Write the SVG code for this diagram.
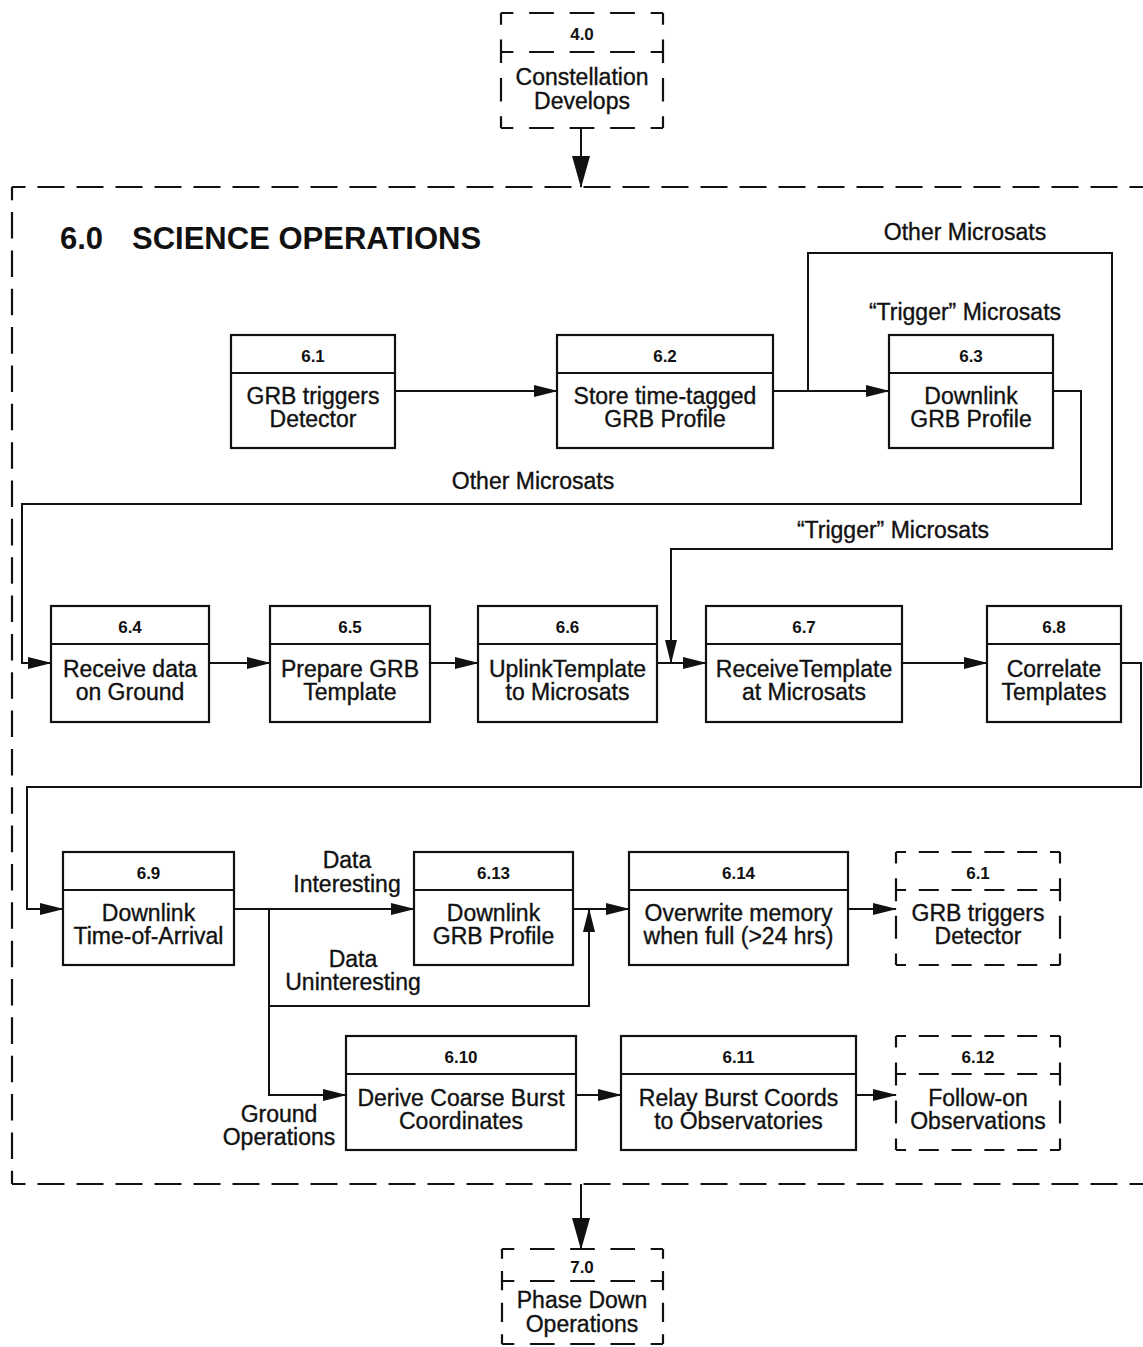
<svg xmlns="http://www.w3.org/2000/svg" width="1143" height="1347" viewBox="0 0 1143 1347">
  <style>
    .node rect { fill: #fff; stroke: #111; stroke-width: 2.2; }
    .node line.div { stroke: #111; stroke-width: 2.2; }
    .dashed line { stroke: #111; stroke-width: 2.2; stroke-dasharray: 22 14; stroke-dashoffset: 11; fill: none; }
    .frame line { stroke: #111; stroke-width: 2.2; stroke-dasharray: 27 12; stroke-dashoffset: 13.5; }
    text { font-family: "Liberation Sans", Arial, Helvetica, sans-serif; fill: #111; text-anchor: middle; }
    .num { font-size: 17px; font-weight: bold; }
    .lbl { font-size: 23px; stroke: #111; stroke-width: 0.35; }
    .title { font-size: 31px; font-weight: bold; text-anchor: start; }
    .conn path { fill: none; stroke: #111; stroke-width: 2; }
  </style>
  <defs>
    <marker id="ah" markerUnits="userSpaceOnUse" markerWidth="24" markerHeight="12" refX="23" refY="6" orient="auto">
      <path d="M0,0 L24,6 L0,12 z" fill="#111"/>
    </marker>
    <marker id="ahb" markerUnits="userSpaceOnUse" markerWidth="32" markerHeight="18" refX="31" refY="9" orient="auto">
      <path d="M0,0 L32,9 L0,18 z" fill="#111"/>
    </marker>
  </defs>

  <rect width="1143" height="1347" fill="#fff"/>

  <!-- 6.0 enclosing frame (right edge lies past the sheet) -->
  <g id="frame-6-0" class="frame">
    <line x1="12" y1="187" x2="1143" y2="187"/>
    <line x1="12" y1="187" x2="12" y2="1184" pathLength="1014"/>
    <line x1="12" y1="1184" x2="1143" y2="1184"/>
    <text class="title" x="60" y="249">6.0</text>
    <text class="title" x="132" y="249">SCIENCE OPERATIONS</text>
  </g>

  <!-- connectors -->
  <g id="connectors" class="conn">
    <path d="M581,128 V187" marker-end="url(#ahb)"/>
    <path d="M581,1184 V1249" marker-end="url(#ahb)"/>
    <path d="M395,391 H557" marker-end="url(#ah)"/>
    <path d="M773,391 H889" marker-end="url(#ah)"/>
    <path d="M808,391 V253 H1112 V549 H671 V663" marker-end="url(#ah)"/>
    <path d="M1053,391 H1081 V504 H22 V663 H51" marker-end="url(#ah)"/>
    <path d="M209,663 H270" marker-end="url(#ah)"/>
    <path d="M430,663 H478" marker-end="url(#ah)"/>
    <path d="M657,663 H706" marker-end="url(#ah)"/>
    <path d="M902,663 H987" marker-end="url(#ah)"/>
    <path d="M1121,663 H1141 V787 H27 V909 H63" marker-end="url(#ah)"/>
    <path d="M234,909 H414" marker-end="url(#ah)"/>
    <path d="M269,909 V1006 H589 V909" marker-end="url(#ah)"/>
    <path d="M573,909 H629" marker-end="url(#ah)"/>
    <path d="M269,1006 V1095 H346" marker-end="url(#ah)"/>
    <path d="M848,909 H896" marker-end="url(#ah)"/>
    <path d="M576,1095 H621" marker-end="url(#ah)"/>
    <path d="M856,1095 H896" marker-end="url(#ah)"/>
  </g>

  <!-- connector labels -->
  <g id="connector-labels">
    <text class="lbl" x="965" y="240">Other Microsats</text>
    <text class="lbl" x="965" y="320">“Trigger” Microsats</text>
    <text class="lbl" x="533" y="489">Other Microsats</text>
    <text class="lbl" x="893" y="538">“Trigger” Microsats</text>
    <text class="lbl" x="347" y="868">Data</text>
    <text class="lbl" x="347" y="892">Interesting</text>
    <text class="lbl" x="353" y="967">Data</text>
    <text class="lbl" x="353" y="990">Uninteresting</text>
    <text class="lbl" x="279" y="1122">Ground</text>
    <text class="lbl" x="279" y="1145">Operations</text>
  </g>

  <!-- 4.0 (outside step) -->
  <g id="n4-0" class="dashed">
    <rect x="501" y="13" width="162" height="115" fill="#fff"/>
    <line x1="501" y1="13" x2="663" y2="13" pathLength="144"/>
    <line x1="501" y1="128" x2="663" y2="128" pathLength="144"/>
    <line x1="501" y1="13" x2="501" y2="128" pathLength="108"/>
    <line x1="663" y1="13" x2="663" y2="128" pathLength="108"/>
    <line x1="501" y1="52" x2="663" y2="52" pathLength="144"/>
    <text class="num" x="582" y="40">4.0</text>
    <text class="lbl" x="582" y="85">Constellation</text>
    <text class="lbl" x="582" y="109">Develops</text>
  </g>

  <!-- row 1 -->
  <g id="n6-1" class="node">
    <rect x="231" y="335" width="164" height="113"/>
    <line class="div" x1="231" y1="373" x2="395" y2="373"/>
    <text class="num" x="313" y="362">6.1</text>
    <text class="lbl" x="313" y="404">GRB triggers</text>
    <text class="lbl" x="313" y="427">Detector</text>
  </g>
  <g id="n6-2" class="node">
    <rect x="557" y="335" width="216" height="113"/>
    <line class="div" x1="557" y1="373" x2="773" y2="373"/>
    <text class="num" x="665" y="362">6.2</text>
    <text class="lbl" x="665" y="404">Store time-tagged</text>
    <text class="lbl" x="665" y="427">GRB Profile</text>
  </g>
  <g id="n6-3" class="node">
    <rect x="889" y="335" width="164" height="113"/>
    <line class="div" x1="889" y1="373" x2="1053" y2="373"/>
    <text class="num" x="971" y="362">6.3</text>
    <text class="lbl" x="971" y="404">Downlink</text>
    <text class="lbl" x="971" y="427">GRB Profile</text>
  </g>

  <!-- row 2 -->
  <g id="n6-4" class="node">
    <rect x="51" y="606" width="158" height="116"/>
    <line class="div" x1="51" y1="644" x2="209" y2="644"/>
    <text class="num" x="130" y="633">6.4</text>
    <text class="lbl" x="130" y="677">Receive data</text>
    <text class="lbl" x="130" y="700">on Ground</text>
  </g>
  <g id="n6-5" class="node">
    <rect x="270" y="606" width="160" height="116"/>
    <line class="div" x1="270" y1="644" x2="430" y2="644"/>
    <text class="num" x="350" y="633">6.5</text>
    <text class="lbl" x="350" y="677">Prepare GRB</text>
    <text class="lbl" x="350" y="700">Template</text>
  </g>
  <g id="n6-6" class="node">
    <rect x="478" y="606" width="179" height="116"/>
    <line class="div" x1="478" y1="644" x2="657" y2="644"/>
    <text class="num" x="567.5" y="633">6.6</text>
    <text class="lbl" x="567.5" y="677">UplinkTemplate</text>
    <text class="lbl" x="567.5" y="700">to Microsats</text>
  </g>
  <g id="n6-7" class="node">
    <rect x="706" y="606" width="196" height="116"/>
    <line class="div" x1="706" y1="644" x2="902" y2="644"/>
    <text class="num" x="804" y="633">6.7</text>
    <text class="lbl" x="804" y="677">ReceiveTemplate</text>
    <text class="lbl" x="804" y="700">at Microsats</text>
  </g>
  <g id="n6-8" class="node">
    <rect x="987" y="606" width="134" height="116"/>
    <line class="div" x1="987" y1="644" x2="1121" y2="644"/>
    <text class="num" x="1054" y="633">6.8</text>
    <text class="lbl" x="1054" y="677">Correlate</text>
    <text class="lbl" x="1054" y="700">Templates</text>
  </g>

  <!-- row 3 -->
  <g id="n6-9" class="node">
    <rect x="63" y="852" width="171" height="113"/>
    <line class="div" x1="63" y1="890" x2="234" y2="890"/>
    <text class="num" x="148.5" y="879">6.9</text>
    <text class="lbl" x="148.5" y="921">Downlink</text>
    <text class="lbl" x="148.5" y="944">Time-of-Arrival</text>
  </g>
  <g id="n6-13" class="node">
    <rect x="414" y="852" width="159" height="113"/>
    <line class="div" x1="414" y1="890" x2="573" y2="890"/>
    <text class="num" x="493.5" y="879">6.13</text>
    <text class="lbl" x="493.5" y="921">Downlink</text>
    <text class="lbl" x="493.5" y="944">GRB Profile</text>
  </g>
  <g id="n6-14" class="node">
    <rect x="629" y="852" width="219" height="113"/>
    <line class="div" x1="629" y1="890" x2="848" y2="890"/>
    <text class="num" x="738.5" y="879">6.14</text>
    <text class="lbl" x="738.5" y="921">Overwrite memory</text>
    <text class="lbl" x="738.5" y="944">when full (&gt;24 hrs)</text>
  </g>
  <g id="n6-1-repeat" class="dashed">
    <line x1="896" y1="852" x2="1060" y2="852" pathLength="180"/>
    <line x1="896" y1="965" x2="1060" y2="965" pathLength="180"/>
    <line x1="896" y1="852" x2="896" y2="965" pathLength="108"/>
    <line x1="1060" y1="852" x2="1060" y2="965" pathLength="108"/>
    <line x1="896" y1="890" x2="1060" y2="890" pathLength="180"/>
    <text class="num" x="978" y="879">6.1</text>
    <text class="lbl" x="978" y="921">GRB triggers</text>
    <text class="lbl" x="978" y="944">Detector</text>
  </g>

  <!-- row 4 -->
  <g id="n6-10" class="node">
    <rect x="346" y="1036" width="230" height="114"/>
    <line class="div" x1="346" y1="1074" x2="576" y2="1074"/>
    <text class="num" x="461" y="1063">6.10</text>
    <text class="lbl" x="461" y="1106">Derive Coarse Burst</text>
    <text class="lbl" x="461" y="1129">Coordinates</text>
  </g>
  <g id="n6-11" class="node">
    <rect x="621" y="1036" width="235" height="114"/>
    <line class="div" x1="621" y1="1074" x2="856" y2="1074"/>
    <text class="num" x="738.5" y="1063">6.11</text>
    <text class="lbl" x="738.5" y="1106">Relay Burst Coords</text>
    <text class="lbl" x="738.5" y="1129">to Observatories</text>
  </g>
  <g id="n6-12" class="dashed">
    <line x1="896" y1="1036" x2="1060" y2="1036" pathLength="180"/>
    <line x1="896" y1="1150" x2="1060" y2="1150" pathLength="180"/>
    <line x1="896" y1="1036" x2="896" y2="1150" pathLength="108"/>
    <line x1="1060" y1="1036" x2="1060" y2="1150" pathLength="108"/>
    <line x1="896" y1="1074" x2="1060" y2="1074" pathLength="180"/>
    <text class="num" x="978" y="1063">6.12</text>
    <text class="lbl" x="978" y="1106">Follow-on</text>
    <text class="lbl" x="978" y="1129">Observations</text>
  </g>

  <!-- 7.0 (following step) -->
  <g id="n7-0" class="dashed">
    <line x1="502" y1="1249" x2="663" y2="1249" pathLength="144"/>
    <line x1="502" y1="1344" x2="663" y2="1344" pathLength="144"/>
    <line x1="502" y1="1249" x2="502" y2="1344" pathLength="108"/>
    <line x1="663" y1="1249" x2="663" y2="1344" pathLength="108"/>
    <line x1="502" y1="1281" x2="663" y2="1281" pathLength="144"/>
    <text class="num" x="582" y="1273">7.0</text>
    <text class="lbl" x="582" y="1308">Phase Down</text>
    <text class="lbl" x="582" y="1332">Operations</text>
  </g>
</svg>
